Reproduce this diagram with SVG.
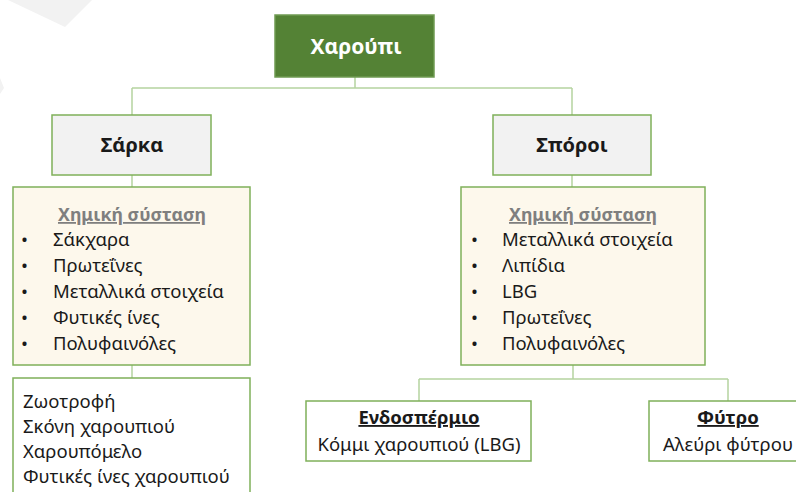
<svg xmlns="http://www.w3.org/2000/svg" width="796" height="492" viewBox="0 0 796 492">
<style>
.t{font-family:"Noto Sans","Open Sans","Liberation Sans",sans-serif;font-size:18.5px;fill:#1a1a1a}
.b{font-weight:bold}
.u{text-decoration:underline}
.c{text-anchor:middle}
.h{fill:#7f7f7f;font-size:17.8px}
.con{fill:none;stroke:#b5d3a0;stroke-width:1.5}
.box{stroke:#7fb05a;stroke-width:1.5}
</style>
<rect width="796" height="492" fill="#ffffff"/>
<g id="watermark" fill="#f2f2f2">
<polygon points="8,0 65,27 80,12 92,0"/>
<polygon points="0,78 4,88 0,94"/>
</g>
<g id="connectors">
<path class="con" d="M355,77 V88 M132,88 H572 M132,88 V115 M572,88 V115"/>
<path class="con" d="M132,175 V187 M572,175 V187"/>
<path class="con" d="M132,365 V378"/>
<path class="con" d="M573,365 V379 M419,379 H728 M419,379 V401 M728,379 V401"/>
</g>
<g id="root">
<rect x="275" y="15" width="159" height="62" fill="#548235" stroke="#6f9a52" stroke-width="1.5"/>
<text class="t b c" x="356" y="54" style="fill:#ffffff;font-size:21px">Χαρούπι</text>
</g>
<g id="sarka">
<rect class="box" x="52" y="115" width="159" height="60" fill="#f2f2f2"/>
<text class="t b c" x="132" y="152" style="font-size:20px">Σάρκα</text>
</g>
<g id="sporoi">
<rect class="box" x="493" y="115" width="158" height="60" fill="#f2f2f2"/>
<text class="t b c" x="572" y="152" style="font-size:20px">Σπόροι</text>
</g>
<g id="sarka-chem">
<rect class="box" x="13" y="187" width="237" height="178" fill="#fdf8ec"/>
<text class="t b u c h" x="132" y="221">Χημική σύσταση</text>
<g class="t">
<text x="21" y="246">•</text><text x="53" y="246">Σάκχαρα</text>
<text x="21" y="272">•</text><text x="53" y="272">Πρωτεΐνες</text>
<text x="21" y="298">•</text><text x="53" y="298">Μεταλλικά στοιχεία</text>
<text x="21" y="324">•</text><text x="53" y="324">Φυτικές ίνες</text>
<text x="21" y="350">•</text><text x="53" y="350">Πολυφαινόλες</text>
</g>
</g>
<g id="sporoi-chem">
<rect class="box" x="461" y="187" width="244" height="178" fill="#fdf8ec"/>
<text class="t b u c h" x="583" y="221">Χημική σύσταση</text>
<g class="t">
<text x="471" y="246">•</text><text x="502" y="246">Μεταλλικά στοιχεία</text>
<text x="471" y="272">•</text><text x="502" y="272">Λιπίδια</text>
<text x="471" y="298">•</text><text x="502" y="298">LBG</text>
<text x="471" y="324">•</text><text x="502" y="324">Πρωτεΐνες</text>
<text x="471" y="350">•</text><text x="502" y="350">Πολυφαινόλες</text>
</g>
</g>
<g id="sarka-products">
<rect class="box" x="13" y="378" width="237" height="130" fill="#ffffff"/>
<g class="t">
<text x="23" y="408">Ζωοτροφή</text>
<text x="23" y="433">Σκόνη χαρουπιού</text>
<text x="23" y="458">Χαρουπόμελο</text>
<text x="23" y="483">Φυτικές ίνες χαρουπιού</text>
</g>
</g>
<g id="endosperm">
<rect class="box" x="306" y="401" width="225" height="60" fill="#ffffff"/>
<text class="t b u c" x="419" y="424">Ενδοσπέρμιο</text>
<text class="t c" x="419" y="451">Κόμμι χαρουπιού (LBG)</text>
</g>
<g id="fytro">
<rect class="box" x="649" y="401" width="160" height="60" fill="#ffffff"/>
<text class="t b u c" x="728" y="424">Φύτρο</text>
<text class="t c" x="728" y="451">Αλεύρι φύτρου</text>
</g>
</svg>
